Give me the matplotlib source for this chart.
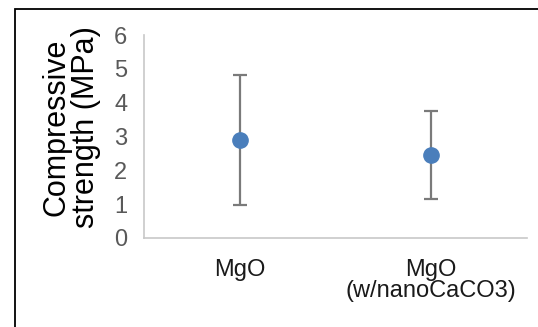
import matplotlib
matplotlib.use("Agg")
import matplotlib.pyplot as plt
from matplotlib.patches import Rectangle

categories = ["MgO", "MgO\n(w/nanoCaCO3)"]
strength = [2.9, 2.45]
error = [1.92, 1.31]
yticks = [0, 1, 2, 3, 4, 5, 6]

plt.rcParams['font.family'] = ['Liberation Sans', 'DejaVu Sans']

fig = plt.figure(figsize=(5.38, 3.27), dpi=100)
fig.patch.set_facecolor('white')
fig.patches.append(Rectangle((15/538, -0.1), 2, 1.1 - 9/327, transform=fig.transFigure,
                             fill=False, edgecolor='black', linewidth=1.3))

ax = fig.add_axes([144/538, 1 - 238/327, (527 - 144)/538, (238 - 35)/327])
x = list(range(len(categories)))
ax.errorbar(x, strength, yerr=error, fmt='o', color='#4a7ebb', markersize=11,
            ecolor='#7a7a7a', elinewidth=1.6, capsize=5, capthick=1.6, zorder=3)
ax.set_xlim(-0.5, len(categories) - 0.5)
ax.set_ylim(0, 6)
ax.set_yticks(yticks)
ax.set_yticklabels([str(t) for t in yticks], color='#595959', fontsize=17)
ax.set_xticks(x)
ax.set_xticklabels(categories, color='#1a1a1a', fontsize=17, linespacing=0.95)
ax.tick_params(axis='both', length=0)
ax.tick_params(axis='y', pad=12)
ax.tick_params(axis='x', pad=15)
for s in ['top', 'right']:
    ax.spines[s].set_visible(False)
ax.spines['left'].set_color('#c8c8c8')
ax.spines['bottom'].set_color('#c8c8c8')
ax.spines['left'].set_linewidth(1.2)
ax.spines['bottom'].set_linewidth(1.2)
ax.set_ylabel("Compressive\nstrength (MPa)", fontsize=22, color='black', linespacing=1.0)
ax.yaxis.set_label_coords(-0.112, 0.545)

fig.savefig("out.png", dpi=100)
